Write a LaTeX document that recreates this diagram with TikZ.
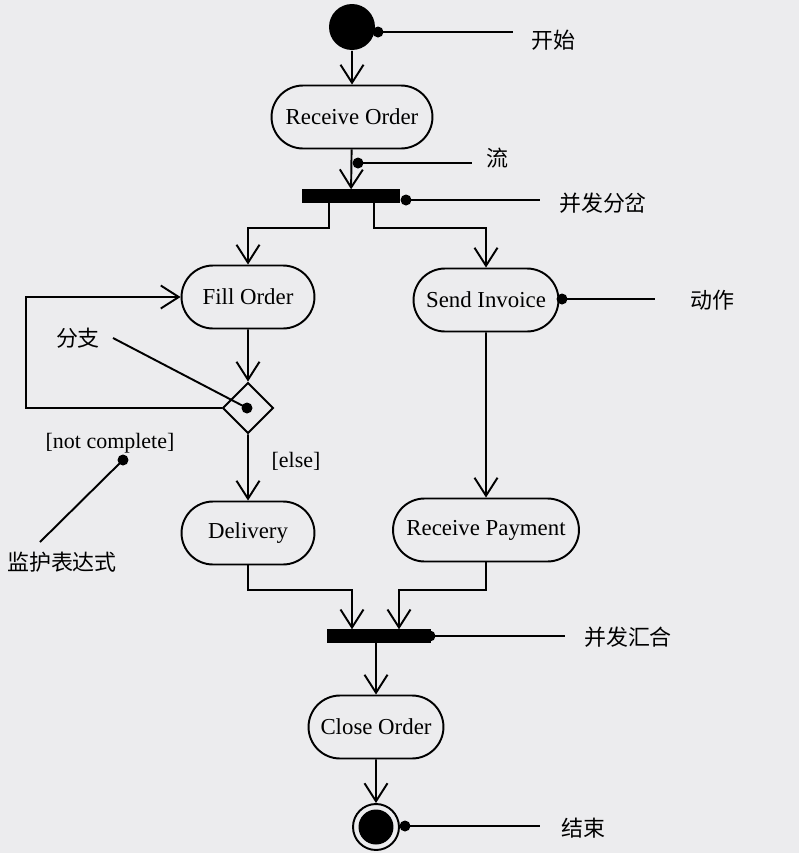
\documentclass[tikz,border=0pt]{standalone}
\usepackage{fontspec}
\setmainfont{Liberation Serif}
\newfontfamily\cjk{Noto Sans CJK SC}
\usepackage{tikz}
\usetikzlibrary{shapes,arrows.meta}
\definecolor{bgcol}{RGB}{236,236,238}
\tikzset{
	action/.style   = {draw, rounded rectangle, fill=bgcol,
		minimum height = 1.26cm, inner sep=2pt,
		font=\fontsize{13}{15}\selectfont},
	bar/.style      = {draw, fill=black, rectangle, inner sep=0pt,
		minimum height = 0.23cm},
	branch/.style   = {draw, diamond, fill=bgcol, inner sep=0pt,
		minimum size = 1.02cm},
	dot/.style      = {circle, fill=black, inner sep=0pt, minimum size=0.22cm},
	note/.style     = {font=\cjk\fontsize{12.5}{14}\selectfont},
	guard/.style    = {font=\fontsize{12.5}{14}\selectfont},
}
\begin{document}
\begin{tikzpicture}[ x=0.02cm, y=-0.02cm,
					line width=1.1pt,              %<--setting line style
					>={Straight Barb[length=3.6mm,width=4.6mm]} ] %<--sets the arrowtype

	\fill[bgcol] (0,0) rectangle (799,853);
	\useasboundingbox (0,0) rectangle (799,853);

	\draw%-----------------------------------------------------------------------------------------
	%Drawing Initial/Final states:
	node(start) at (352,27) [circle, fill=black, minimum size=0.92cm] {}
	node(endO) at (376,827) [circle, draw, minimum size=0.92cm] {}
	node(endI) at (376,827) [circle, fill=black, minimum size=0.7cm] {}
	%Drawing the Action Blocks:
	node(recv) at (352,117) [action, minimum width=3.36cm] {Receive Order}
	node(fill) at (248,297) [action, minimum width=2.8cm] {Fill Order}
	node(send) at (486,300) [action, minimum width=3.04cm] {Send Invoice}
	node(deliv) at (248,533) [action, minimum width=2.8cm] {Delivery}
	node(pay) at (486,530) [action, minimum width=3.86cm] {Receive Payment}
	node(close) at (376,727) [action, minimum width=2.84cm] {Close Order}
	%Drawing the Fork/Join Bars and the Branch:
	node(fork) at (351,196) [bar, minimum width=1.94cm] {}
	node(join) at (379,636) [bar, minimum width=2.04cm] {}
	node(dec) at (248,408) [branch] {}
	%Drawing the Routing Nodes:
	node[shape=coordinate][](forkL) at (329,228){}
	node[shape=coordinate][](forkR) at (374,228){}
	node[shape=coordinate][](loop) at (26,408){}
	node[shape=coordinate][](joinL) at (352,590){}
	node[shape=coordinate][](joinR) at (399,590){}
	;%---------------------------------------------------------------------------------------------

	%Joining the Blocks
	\draw[->](start) -- (recv);
	\draw[->](recv) -- (fork);
	\draw[->](fork.south -| forkL) -- (forkL) -| (fill);
	\draw[->](fork.south -| forkR) -- (forkR) -| (send);
	\draw[->](fill) -- (dec);
	\draw[->](dec) -- (loop) |- (fill);
	\draw[->](dec) -- (deliv);
	\draw[->](send) -- (pay);
	\draw[->](deliv) |- (joinL) -- (join.north -| joinL);
	\draw[->](pay) |- (joinR) -- (join.north -| joinR);
	\draw[->](join.south -| close) -- (close);
	\draw[->](close) -- (endO);

	%Drawing the Annotations
	\draw%--------------------------------------------------------------
	node(dStart) at (378,32) [dot] {}
	node(dFlow) at (358,163) [dot] {}
	node(dFork) at (406,200) [dot] {}
	node(dAct) at (562,299) [dot] {}
	node(dDec) at (247,408) [dot] {}
	node(dGuard) at (123,460) [dot] {}
	node(dJoin) at (430,636) [dot] {}
	node(dEnd) at (405,826) [dot] {}
	node[note](tStart) at (553,40) {开始}
	node[note](tFlow) at (497,158) {流}
	node[note](tFork) at (603,203) {并发分岔}
	node[note](tAct) at (712,300) {动作}
	node[note](tDec) at (78,338) {分支}
	node[guard](tGuard) at (110,443) {[not complete]}
	node[guard](tElse) at (296,461) {[else]}
	node[note](tGdesc) at (62,562) {监护表达式}
	node[note](tJoin) at (628,637) {并发汇合}
	node[note](tEnd) at (583,828) {结束}
	node[shape=coordinate][](eStart) at (513,32){}
	node[shape=coordinate][](eFlow) at (472,163){}
	node[shape=coordinate][](eFork) at (540,200){}
	node[shape=coordinate][](eAct) at (655,299){}
	node[shape=coordinate][](eDec) at (113,338){}
	node[shape=coordinate][](eGuard) at (40,542){}
	node[shape=coordinate][](eJoin) at (565,636){}
	node[shape=coordinate][](eEnd) at (540,826){}
	;%------------------------------------------------------------------

	\draw (dStart.center) -- (eStart);
	\draw (dFlow.center) -- (eFlow);
	\draw (dFork.center) -- (eFork);
	\draw (dAct.center) -- (eAct);
	\draw (dDec.center) -- (eDec);
	\draw (dGuard.center) -- (eGuard);
	\draw (dJoin.center) -- (eJoin);
	\draw (dEnd.center) -- (eEnd);

\end{tikzpicture}
\end{document}
